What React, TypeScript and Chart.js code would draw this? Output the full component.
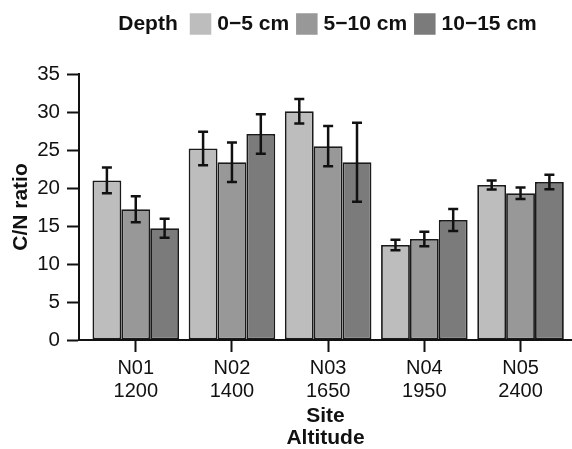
import React, { useEffect, useRef } from "react";
import { Chart, registerables } from "chart.js";

Chart.register(...registerables);

const FONT = "'Liberation Sans', Arial, Helvetica, sans-serif";

const sites = ["N01", "N02", "N03", "N04", "N05"];
const altitudes = ["1200", "1400", "1650", "1950", "2400"];
const legendTitle = "Depth";
const depthLabels = ["0\u22125 cm", "5\u221210 cm", "10\u221215 cm"];
const depthColors = ["#bdbdbd", "#989898", "#7b7b7b"];

const depth0to5 = [21.0, 25.2, 30.1, 12.5, 20.4];
const depth5to10 = [17.2, 23.4, 25.5, 13.3, 19.3];
const depth10to15 = [14.7, 27.1, 23.4, 15.8, 20.8];

const err0to5 = [1.7, 2.2, 1.6, 0.7, 0.6];
const err5to10 = [1.7, 2.6, 2.65, 0.95, 0.75];
const err10to15 = [1.25, 2.6, 5.2, 1.45, 0.95];

const yMin = 0;
const yMax = 35;
const yStep = 5;

const seriesValues = [depth0to5, depth5to10, depth10to15];
const seriesErrors = [err0to5, err5to10, err10to15];

const errorBarPlugin = {
  id: "errorBars",
  afterDatasetsDraw(chart: any) {
    const ctx = chart.ctx;
    const yScale = chart.scales.y;
    ctx.save();
    ctx.strokeStyle = "#111";
    ctx.lineWidth = 2.5;
    chart.data.datasets.forEach((ds: any, di: number) => {
      const meta = chart.getDatasetMeta(di);
      const errs = seriesErrors[di];
      meta.data.forEach((bar: any, j: number) => {
        const v = ds.data[j];
        const e = errs[j];
        const yTop = yScale.getPixelForValue(v + e);
        const yBot = yScale.getPixelForValue(v - e);
        const x = bar.x;
        const half = 5;
        ctx.beginPath();
        ctx.moveTo(x, yTop);
        ctx.lineTo(x, yBot);
        ctx.moveTo(x - half, yTop);
        ctx.lineTo(x + half, yTop);
        ctx.moveTo(x - half, yBot);
        ctx.lineTo(x + half, yBot);
        ctx.stroke();
      });
    });
    ctx.restore();
  },
};

const legendPlugin = {
  id: "depthLegend",
  afterDraw(chart: any) {
    const ctx = chart.ctx;
    const area = chart.chartArea;
    ctx.save();
    ctx.font = `bold 21px ${FONT}`;
    ctx.textBaseline = "middle";
    ctx.textAlign = "left";
    ctx.fillStyle = "#111";
    const box = 21.5;
    const gapTitle = 12;
    const gapBoxText = 6;
    const gapItem = 7;
    const titleW = ctx.measureText(legendTitle).width;
    const widths = depthLabels.map((t) => ctx.measureText(t).width);
    let total = titleW;
    widths.forEach((w, i) => {
      total += (i === 0 ? gapTitle : gapItem) + box + gapBoxText + w;
    });
    const cx = (area.left + area.right) / 2 + 2;
    const cy = 24;
    let x = cx - total / 2;
    ctx.fillText(legendTitle, x, cy);
    x += titleW;
    widths.forEach((w, i) => {
      x += i === 0 ? gapTitle : gapItem;
      ctx.fillStyle = depthColors[i];
      ctx.fillRect(x, cy - box / 2, box, box);
      x += box + gapBoxText;
      ctx.fillStyle = "#111";
      ctx.fillText(depthLabels[i], x, cy);
      x += w;
    });
    ctx.restore();
  },
};

export default function App() {
  const canvasRef = useRef<HTMLCanvasElement | null>(null);

  useEffect(() => {
    if (!canvasRef.current) return;
    const chart = new Chart(canvasRef.current, {
      type: "bar",
      data: {
        labels: sites,
        datasets: depthLabels.map((label, i) => ({
          label,
          data: seriesValues[i],
          backgroundColor: depthColors[i],
          borderColor: "#1a1a1a",
          borderWidth: 1.8,
          borderSkipped: false,
          categoryPercentage: 0.9,
          barPercentage: 1.0,
        })),
      },
      options: {
        responsive: false,
        animation: false,
        layout: { padding: { top: 74, left: 0, right: 0, bottom: 0 } },
        plugins: {
          legend: { display: false },
          tooltip: { enabled: false },
        },
        scales: {
          x: {
            offset: true,
            ticks: {
              color: "#111",
              font: { size: 20, family: FONT, lineHeight: 1.15 },
              padding: 5,
              autoSkip: false,
              maxRotation: 0,
              callback: (_v: any, i: number) => [sites[i], altitudes[i]],
            },
            grid: {
              offset: false,
              drawOnChartArea: false,
              drawTicks: true,
              tickLength: 12,
              tickWidth: 2,
              tickColor: "#111",
            },
            border: { display: true, color: "#111", width: 2 },
            title: {
              display: true,
              text: ["Site", "Altitude"],
              color: "#111",
              font: { size: 21, weight: "bold", family: FONT, lineHeight: 22 / 21 },
              padding: { top: 0, bottom: 0 },
            },
            afterBuildTicks: (s: any) => {
              s._startValue = -0.59;
              s._valueRange = 5.125;
            },
            afterFit: (s: any) => {
              s.height = 109;
            },
          },
          y: {
            min: yMin,
            max: yMax,
            ticks: {
              stepSize: yStep,
              color: "#111",
              font: { size: 20.5, family: FONT },
              padding: 7,
            },
            grid: {
              drawOnChartArea: false,
              drawTicks: true,
              tickLength: 12,
              tickWidth: 2,
              tickColor: "#111",
            },
            border: { display: true, color: "#111", width: 2 },
            title: {
              display: true,
              text: "C/N ratio",
              color: "#111",
              font: { size: 21, weight: "bold", family: FONT },
              padding: { top: 9, bottom: 0 },
            },
            afterFit: (s: any) => {
              s.width = 79;
            },
          },
        },
      } as any,
      plugins: [errorBarPlugin, legendPlugin],
    });
    return () => chart.destroy();
  }, []);

  return (
    <div style={{ position: "absolute", left: 0, top: 0, width: 572, height: 449, background: "#fff" }}>
      <canvas ref={canvasRef} width={572} height={449} style={{ display: "block" }} />
    </div>
  );
}
